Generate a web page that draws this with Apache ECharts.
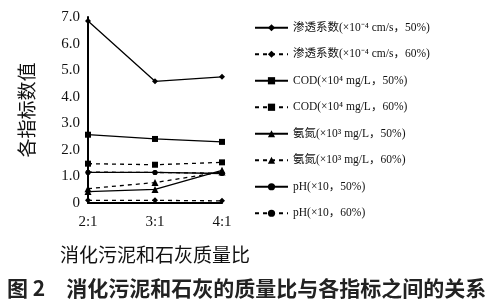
<!DOCTYPE html>
<html><head><meta charset="utf-8">
<script src="https://cdn.jsdelivr.net/npm/echarts@6/dist/echarts.min.js"></script>
<style>html,body{margin:0;padding:0;background:#fff}#c{width:488px;height:308px}</style>
</head><body><div id="c"></div>
<script>
const categories = ['2:1', '3:1', '4:1'];
const yTicks = [0, 1, 2, 3, 4, 5, 6, 7];
const perm50 = [6.85, 4.58, 4.75];
const perm60 = [0.10, 0.10, 0.08];
const cod50 = [2.57, 2.41, 2.30];
const cod60 = [1.48, 1.44, 1.53];
const nh50 = [0.43, 0.51, 1.23];
const nh60 = [0.54, 0.77, 1.17];
const ph50 = [1.15, 1.15, 1.11];
const ph60 = [1.16, 1.15, 1.12];
const names = [
  '渗透系数(×10⁻⁴ cm/s，50%)',
  '渗透系数(×10⁻⁴ cm/s，60%)',
  'COD(×10⁴ mg/L，50%)',
  'COD(×10⁴ mg/L，60%)',
  '氨氮(×10³ mg/L，50%)',
  '氨氮(×10³ mg/L，60%)',
  'pH(×10，50%)',
  'pH(×10，60%)'
];
const datas = [perm50, perm60, cod50, cod60, nh50, nh60, ph50, ph60];
const symbols = ['diamond','diamond','rect','rect','triangle','triangle','circle','circle'];
const sizes = [6,6,6,6,7,7,5,5];
const types = ['solid','dashed','solid','dashed','solid','dashed','solid','dashed'];

const chart = echarts.init(document.getElementById('c'), null, {renderer:'canvas'});
const serif = '"Liberation Serif", "Noto Sans CJK SC", serif';
chart.setOption({
  animation: false,
  title: {
    text: '图 2　消化污泥和石灰的质量比与各指标之间的关系',
    left: 2, top: 273,
    textStyle: {fontFamily: '"Noto Sans CJK SC"', fontSize: 21, fontWeight: 'bold', color: '#222'}
  },
  legend: {
    orient: 'vertical', left: 249, top: 17,
    itemWidth: 33, itemHeight: 9, itemGap: 15,
    textStyle: {fontFamily: serif, fontSize: 11.5, color: '#111'},
    data: names
  },
  grid: {left: 88, right: 266, top: 17, bottom: 105, containLabel: false},
  xAxis: {
    type: 'category', data: categories, boundaryGap: false,
    axisLine: {lineStyle: {color: '#000', width: 2}},
    axisTick: {show: false},
    axisLabel: {fontFamily: serif, fontSize: 15, color: '#111', margin: 12},
    name: '消化污泥和石灰质量比', nameLocation: 'middle', nameGap: 42,
    nameTextStyle: {fontFamily: '"Noto Sans CJK SC"', fontSize: 19, color: '#111'}
  },
  yAxis: {
    type: 'value', min: 0, max: 7, interval: 1,
    axisLine: {show: true, lineStyle: {color: '#000', width: 2}},
    axisTick: {show: false},
    splitLine: {show: false},
    axisLabel: {fontFamily: serif, fontSize: 15, color: '#111', margin: 8,
      formatter: v => yTicks.indexOf(v) >= 0 ? (v === 0 ? '0' : v.toFixed(1)) : ''},
    name: '各指标数值', nameLocation: 'middle', nameGap: 52, nameRotate: 90,
    nameTextStyle: {fontFamily: '"Noto Sans CJK SC"', fontSize: 19, color: '#111'}
  },
  series: names.map((n, i) => ({
    name: n, type: 'line', data: datas[i],
    symbol: symbols[i], symbolSize: sizes[i],
    itemStyle: {color: '#000'},
    lineStyle: {color: '#000', width: 1.3, type: types[i] === 'dashed' ? [4, 4] : 'solid'}
  }))
});
</script></body></html>
